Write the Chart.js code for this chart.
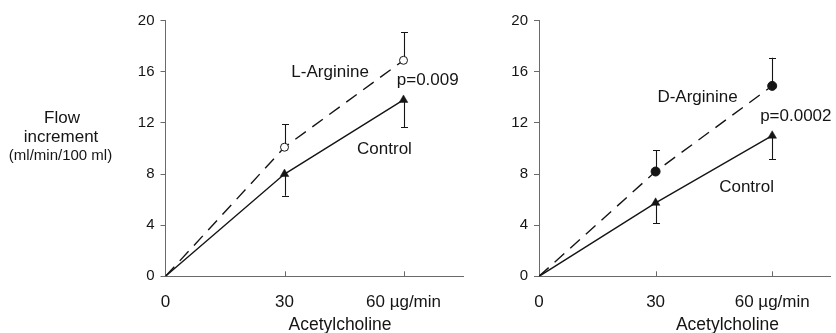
<!DOCTYPE html>
<html><head><meta charset="utf-8">
<script src="https://cdn.jsdelivr.net/npm/chart.js@4/dist/chart.umd.min.js"></script>
<style>
html,body{margin:0;padding:0;background:#fff;}
#wrap{position:relative;width:836px;height:333px;overflow:hidden;background:#fff;}
canvas{position:absolute;top:0;}
</style></head><body>
<div id="wrap">
<canvas id="left" style="left:0px;width:470px;height:333px" width="470" height="333"></canvas>
<canvas id="right" style="left:470px;width:366px;height:333px" width="366" height="333"></canvas>
</div>
<script>
// ---- data ----
const doses = [0, 30, 60];
const xTickLabels = ['0', '30', '60 µg/min'];
const yTickValues = [0, 4, 8, 12, 16, 20];
const xTitle = 'Acetylcholine';
const yTitleLines = ['Flow', 'increment', '(ml/min/100 ml)'];

const leftArginineName = 'L-Arginine';
const leftArginine = [0, 10.1, 16.9];
const leftArginineErr = [0, 1.8, 2.2];
const leftControl = [0, 8.0, 13.8];
const leftControlErr = [0, 1.7, 2.15];
const leftP = 'p=0.009';

const rightArginineName = 'D-Arginine';
const rightArginine = [0, 8.2, 14.9];
const rightArginineErr = [0, 1.65, 2.2];
const rightControl = [0, 5.75, 11.0];
const rightControlErr = [0, 1.6, 1.85];
const rightP = 'p=0.0002';

const FONT = "'Liberation Sans', Arial, Helvetica, sans-serif";
const INK = '#151515';
const AXIS = '#6a6a6a';

const extras = {
  id: 'extras',
  beforeDatasetsDraw(chart) {
    const o = chart.options.plugins.extras;
    const ctx = chart.ctx, x = chart.scales.x, y = chart.scales.y;
    ctx.save();
    ctx.strokeStyle = INK; ctx.lineWidth = 1.1;
    o.errors.forEach(e => {
      doses.forEach((d, i) => {
        if (!e.err[i]) return;
        const px = Math.round(x.getPixelForValue(d)) + 0.5;
        const p0 = y.getPixelForValue(e.vals[i]);
        const p1 = y.getPixelForValue(e.vals[i] + e.dir * e.err[i]);
        ctx.beginPath();
        ctx.moveTo(px, p0); ctx.lineTo(px, p1);
        ctx.moveTo(px - 3.5, Math.round(p1) + 0.5); ctx.lineTo(px + 3.5, Math.round(p1) + 0.5);
        ctx.stroke();
      });
    });
    // inward x tick marks
    ctx.strokeStyle = AXIS; ctx.lineWidth = 1;
    doses.forEach(d => {
      if (d === 0) return;
      const px = Math.round(x.getPixelForValue(d)) + 0.5;
      ctx.beginPath(); ctx.moveTo(px, x.top); ctx.lineTo(px, x.top - 5); ctx.stroke();
    });
    ctx.restore();
  },
  afterDraw(chart) {
    const o = chart.options.plugins.extras;
    const ctx = chart.ctx, x = chart.scales.x, y = chart.scales.y;
    ctx.save();
    ctx.fillStyle = INK;
    ctx.textBaseline = 'middle';
    o.notes.forEach(n => {
      ctx.font = n.size + 'px ' + FONT;
      ctx.textAlign = n.align;
      ctx.fillText(n.text, x.getPixelForValue(n.x), y.getPixelForValue(n.y));
    });
    ctx.font = '17.5px ' + FONT;
    ctx.textAlign = 'center';
    ctx.fillText(xTitle, x.getPixelForValue(o.titleX), 325);
    if (o.yTitle) {
      ctx.font = '17px ' + FONT;
      ctx.fillText(yTitleLines[0], 62, 118);
      ctx.fillText(yTitleLines[1], 61, 137);
      ctx.font = '15px ' + FONT;
      ctx.fillText(yTitleLines[2], 60.5, 156);
    }
    ctx.restore();
  }
};

function makeChart(id, arg, argErr, ctl, ctlErr, dotStyle, yWidth, pad, notes, titleX, yTitle) {
  const rArr = (r) => [0, r, r];
  return new Chart(document.getElementById(id), {
    type: 'line',
    data: {
      datasets: [
        {
          label: 'Control',
          data: doses.map((d, i) => ({x: d, y: ctl[i]})),
          borderColor: INK, borderWidth: 1.4,
          pointStyle: 'triangle', pointRadius: rArr(5), pointBackgroundColor: INK,
          pointBorderColor: INK, pointBorderWidth: 0.5, tension: 0
        },
        {
          label: 'Arginine',
          data: doses.map((d, i) => ({x: d, y: arg[i]})),
          borderColor: INK, borderWidth: 1.4, borderDash: [13, 8],
          pointStyle: 'circle', pointRadius: rArr(dotStyle.r),
          pointBackgroundColor: dotStyle.fill, pointBorderColor: INK,
          pointBorderWidth: 1, tension: 0
        }
      ]
    },
    options: {
      responsive: false, animation: false, devicePixelRatio: 1,
      layout: {padding: pad},
      plugins: {
        legend: {display: false}, tooltip: {enabled: false},
        extras: {
          errors: [
            {vals: arg, err: argErr, dir: 1},
            {vals: ctl, err: ctlErr, dir: -1}
          ],
          notes: notes, titleX: titleX, yTitle: yTitle
        }
      },
      scales: {
        x: {
          type: 'linear', min: 0, max: 75,
          afterBuildTicks: s => { s.ticks = doses.map(v => ({value: v})); },
          afterFit: s => { s.height = 333 - 276.3; },
          ticks: {
            autoSkip: false, maxRotation: 0, padding: 16, color: INK,
            font: {family: FONT, size: 17},
            callback: (v) => xTickLabels[doses.indexOf(v)]
          },
          grid: {drawOnChartArea: false, drawTicks: false, color: AXIS},
          border: {color: AXIS, width: 1}
        },
        y: {
          min: 0, max: 20,
          afterBuildTicks: s => { s.ticks = yTickValues.map(v => ({value: v})); },
          afterFit: s => { s.width = yWidth; },
          ticks: {padding: 6, color: INK, font: {family: FONT, size: 15}},
          grid: {drawOnChartArea: false, drawTicks: true, tickLength: 5, color: AXIS},
          border: {color: AXIS, width: 1}
        }
      }
    },
    plugins: [extras]
  });
}

makeChart('left', leftArginine, leftArginineErr, leftControl, leftControlErr,
  {r: 4, fill: '#ffffff'}, 165.5, {left: 0, top: 20.7, right: 7, bottom: 0},
  [
    {text: leftArginineName, x: 41.5, y: 16.0, align: 'center', size: 17},
    {text: leftP, x: 58.3, y: 15.3, align: 'left', size: 17},
    {text: 'Control', x: 55.2, y: 9.9, align: 'center', size: 17}
  ], 44, true);

makeChart('right', rightArginine, rightArginineErr, rightControl, rightControlErr,
  {r: 4.5, fill: INK}, 69, {left: 0, top: 20.7, right: 2, bottom: 0},
  [
    {text: rightArginineName, x: 40.8, y: 14.0, align: 'center', size: 17},
    {text: rightP, x: 56.9, y: 12.5, align: 'left', size: 17},
    {text: 'Control', x: 53.4, y: 7.0, align: 'center', size: 17}
  ], 48.5, false);
</script>
</body></html>
